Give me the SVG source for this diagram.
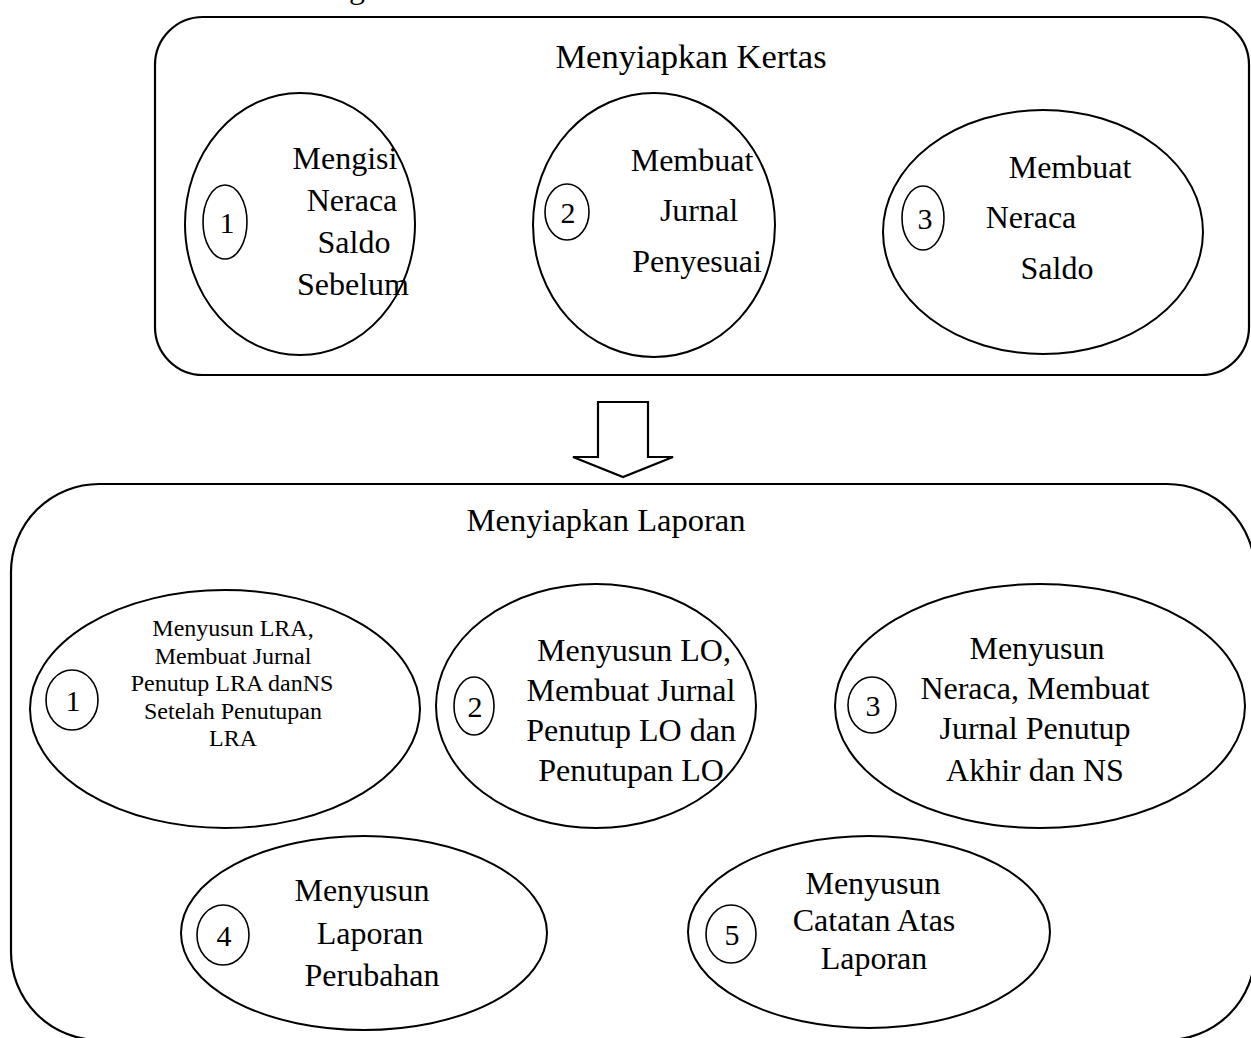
<svg xmlns="http://www.w3.org/2000/svg" width="1251" height="1038" viewBox="0 0 1251 1038">
  <style>
    .frame { fill: none; stroke: #000; stroke-width: 2.2; }
    .oval { fill: none; stroke: #000; stroke-width: 2; }
    .num { fill: none; stroke: #000; stroke-width: 1.6; }
    text { font-family: "Liberation Serif", "Times New Roman", serif; fill: #000; text-anchor: middle; }
    .t28 { font-size: 32px; }
    .head { font-size: 34.5px; }
    .head2 { font-size: 32.5px; }
    .t26 { font-size: 30px; }
    .t22 { font-size: 24px; }
  </style>
  <rect width="1251" height="1038" fill="#fff"/>

  <!-- descender of a heading line above the page edge -->
  <text class="t28" x="357" y="-2">g</text>

  <!-- stage 1: preparing the worksheet -->
  <g id="stage-kertas">
    <rect class="frame" x="155" y="17" width="1094" height="358" rx="48" ry="48"/>
    <text class="head" x="691" y="68">Menyiapkan Kertas</text>
  </g>

  <g id="k1">
    <ellipse class="oval" cx="300" cy="224" rx="115" ry="131"/>
    <ellipse class="num" cx="225" cy="222" rx="22" ry="37"/>
    <text class="t26" x="227" y="233">1</text>
    <text class="t28" x="345" y="169">Mengisi</text>
    <text class="t28" x="352" y="211">Neraca</text>
    <text class="t28" x="354" y="253">Saldo</text>
    <text class="t28" x="353" y="295">Sebelum</text>
  </g>

  <g id="k2">
    <ellipse class="oval" cx="654" cy="225" rx="121" ry="132"/>
    <ellipse class="num" cx="567" cy="212" rx="22" ry="28"/>
    <text class="t26" x="568" y="223">2</text>
    <text class="t28" x="692" y="171">Membuat</text>
    <text class="t28" x="699" y="221">Jurnal</text>
    <text class="t28" x="697" y="272">Penyesuai</text>
  </g>

  <g id="k3">
    <ellipse class="oval" cx="1043" cy="232" rx="160" ry="122"/>
    <ellipse class="num" cx="923" cy="218" rx="21" ry="32"/>
    <text class="t26" x="925" y="229">3</text>
    <text class="t28" x="1070" y="178">Membuat</text>
    <text class="t28" x="1031" y="228">Neraca</text>
    <text class="t28" x="1057" y="279">Saldo</text>
  </g>

  <!-- block arrow between the two stages -->
  <g id="connectors">
    <path class="frame" d="M598 402 H648 V457 H673 L623 477 L573 457 H598 Z" stroke-linejoin="miter"/>
  </g>

  <!-- stage 2: preparing the reports -->
  <g id="stage-laporan">
    <rect class="frame" x="11" y="484" width="1244" height="556" rx="88" ry="88"/>
    <text class="head2" x="606" y="531">Menyiapkan Laporan</text>
  </g>

  <g id="l1">
    <ellipse class="oval" cx="225" cy="709" rx="195" ry="119"/>
    <ellipse class="num" cx="72" cy="700" rx="26" ry="30"/>
    <text class="t26" x="73" y="711">1</text>
    <text class="t22" x="233" y="636">Menyusun LRA,</text>
    <text class="t22" x="233" y="664">Membuat Jurnal</text>
    <text class="t22" x="232" y="691">Penutup LRA danNS</text>
    <text class="t22" x="233" y="719">Setelah Penutupan</text>
    <text class="t22" x="233" y="746">LRA</text>
  </g>

  <g id="l2">
    <ellipse class="oval" cx="596" cy="706" rx="160" ry="122"/>
    <ellipse class="num" cx="474" cy="706" rx="20" ry="29"/>
    <text class="t26" x="475" y="717">2</text>
    <text class="t28" x="634" y="661">Menyusun LO,</text>
    <text class="t28" x="631" y="701">Membuat Jurnal</text>
    <text class="t28" x="631" y="741">Penutup LO dan</text>
    <text class="t28" x="631" y="781">Penutupan LO</text>
  </g>

  <g id="l3">
    <ellipse class="oval" cx="1040" cy="706" rx="205" ry="122"/>
    <ellipse class="num" cx="872" cy="705" rx="24" ry="28"/>
    <text class="t26" x="873" y="716">3</text>
    <text class="t28" x="1037" y="659">Menyusun</text>
    <text class="t28" x="1035" y="699">Neraca, Membuat</text>
    <text class="t28" x="1035" y="739">Jurnal Penutup</text>
    <text class="t28" x="1035" y="781">Akhir dan NS</text>
  </g>

  <g id="l4">
    <ellipse class="oval" cx="364" cy="933" rx="183" ry="97"/>
    <ellipse class="num" cx="223" cy="935" rx="26" ry="30"/>
    <text class="t26" x="224" y="946">4</text>
    <text class="t28" x="362" y="901">Menyusun</text>
    <text class="t28" x="370" y="944">Laporan</text>
    <text class="t28" x="372" y="986">Perubahan</text>
  </g>

  <g id="l5">
    <ellipse class="oval" cx="869" cy="932" rx="181" ry="96"/>
    <ellipse class="num" cx="731" cy="934" rx="25" ry="29"/>
    <text class="t26" x="732" y="945">5</text>
    <text class="t28" x="873" y="894">Menyusun</text>
    <text class="t28" x="874" y="931">Catatan Atas</text>
    <text class="t28" x="874" y="969">Laporan</text>
  </g>
</svg>
